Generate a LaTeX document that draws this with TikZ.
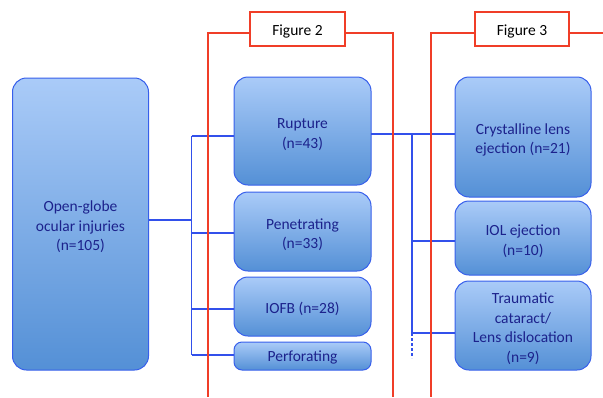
\documentclass[tikz,border=0pt]{standalone}
\usepackage{fontspec}
\setmainfont{Carlito}
\definecolor{txtblue}{RGB}{28,34,140}
\definecolor{edgeblue}{RGB}{55,95,235}
\definecolor{topblue}{RGB}{170,203,248}
\definecolor{botblue}{RGB}{84,144,214}
\definecolor{linkblue}{RGB}{50,80,235}
\definecolor{figred}{RGB}{240,62,40}
\newcommand\dnstrut{\rule{0pt}{17pt}}
\begin{document}
\begin{tikzpicture}[x=1pt,y=-1pt,
  catbox/.style={draw=edgeblue,line width=1pt,rounded corners=14pt,top color=topblue,bottom color=botblue,
    text=txtblue,align=center,inner sep=0pt,font=\fontsize{15.5}{19.5}\selectfont},
  figbox/.style={draw=figred,line width=1.8pt,fill=white,inner sep=0pt,minimum width=95pt,minimum height=34pt,
    font=\fontsize{15.5}{18}\selectfont},
  link/.style={draw=linkblue,line width=1.2pt},
  redline/.style={draw=figred,line width=1.8pt}]
\useasboundingbox (0,0) rectangle (603,397);
% boxes
\node[catbox,minimum width=136pt,minimum height=292pt] (og) at (80.5,224) {\dnstrut Open-globe\\ocular injuries\\(n=105)};
\node[catbox,minimum width=137pt,minimum height=108pt] (rup) at (302.5,131) {\dnstrut Rupture\\(n=43)};
\node[catbox,minimum width=137pt,minimum height=79pt] (pen) at (302.5,231.5) {\dnstrut Penetrating\\(n=33)};
\node[catbox,minimum width=137pt,minimum height=59pt] (iofb) at (302.5,306.5) {\dnstrut IOFB (n=28)};
\node[catbox,minimum width=137pt,minimum height=28pt,rounded corners=8pt] (perf) at (302.5,356) {\rule{0pt}{14pt}Perforating};
\node[catbox,minimum width=136pt,minimum height=120pt] (cry) at (523,137) {\dnstrut Crystalline lens\\ejection (n=21)};
\node[catbox,minimum width=136pt,minimum height=74pt] (iol) at (523,238) {\dnstrut IOL ejection\\(n=10)};
\node[catbox,minimum width=136pt,minimum height=89pt] (trau) at (523,325.5) {\dnstrut Traumatic\\cataract/\\Lens dislocation\\(n=9)};
% left tree
\coordinate (t0) at (149,220);
\coordinate (tj) at (191.5,220);
\coordinate (j1) at (191.5,136);
\coordinate (j2) at (191.5,233);
\coordinate (j3) at (191.5,309);
\coordinate (j4) at (191.5,355);
\draw[link] (t0) -- (tj);
\draw[link] (j1) -- (j4);
\draw[link] (j1) -- (j1 -| rup.west);
\draw[link] (j2) -- (j2 -| pen.west);
\draw[link] (j3) -- (j3 -| iofb.west);
\draw[link] (j4) -- (j4 -| perf.west);
% right tree
\coordinate (r0) at (371,134);
\coordinate (k1) at (412,134);
\coordinate (k2) at (412,241);
\coordinate (k3) at (412,333);
\coordinate (k4) at (412,358);
\draw[link] (r0) -- (r0 -| cry.west);
\draw[link] (k1) -- (k3);
\draw[link,dashed,dash pattern=on 3pt off 2pt] (k3) -- (k4);
\draw[link] (k2) -- (k2 -| iol.west);
\draw[link] (k3) -- (k3 -| trau.west);
% figure markers
\node[figbox] (fig2) at (297.5,29) {\rule{0pt}{15pt}Figure 2};
\node[figbox,minimum width=94pt] (fig3) at (522,29) {\rule{0pt}{15pt}Figure 3};
\coordinate (a1) at (208,33);
\coordinate (a2) at (208,397);
\coordinate (b1) at (393,33);
\coordinate (b2) at (393,397);
\coordinate (c1) at (431,33);
\coordinate (c2) at (431,397);
\coordinate (d1) at (603,33);
\draw[redline] (fig2.west |- a1) -- (a1) -- (a2);
\draw[redline] (fig2.east |- b1) -- (b1) -- (b2);
\draw[redline] (fig3.west |- c1) -- (c1) -- (c2);
\draw[redline] (fig3.east |- d1) -- (d1);
\end{tikzpicture}
\end{document}
